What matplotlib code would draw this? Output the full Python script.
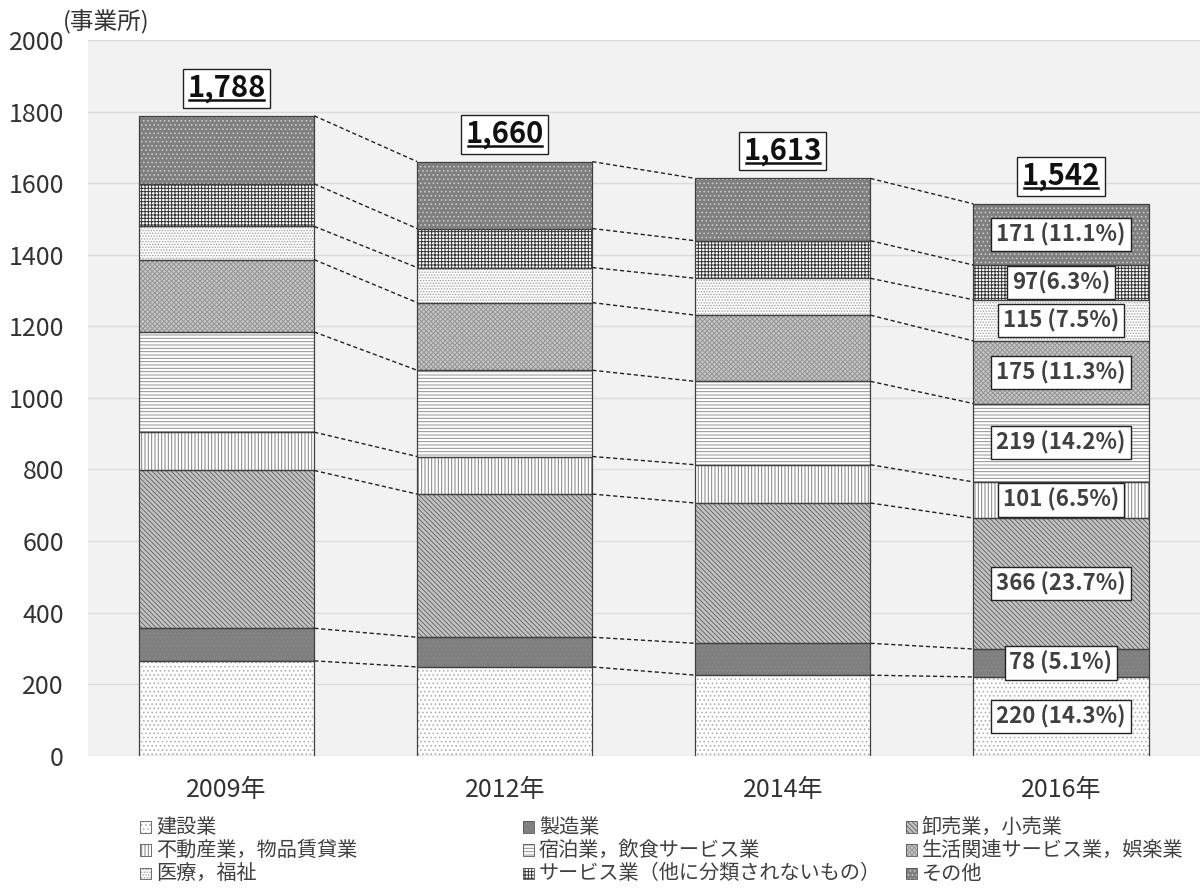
import matplotlib
matplotlib.use("Agg")
from matplotlib import pyplot as plt
from matplotlib.patches import Rectangle
from matplotlib.lines import Line2D
import numpy as np

plt.rcParams["font.family"] = ["Noto Sans CJK JP", "DejaVu Sans"]
plt.rcParams["hatch.linewidth"] = 0.7

years = ["2009年", "2012年", "2014年", "2016年"]
categories = [
    "建設業",
    "製造業",
    "卸売業，小売業",
    "不動産業，物品賃貸業",
    "宿泊業，飲食サービス業",
    "生活関連サービス業，娯楽業",
    "医療，福祉",
    "サービス業（他に分類されないもの）",
    "その他",
]
kensetsu = [265, 248, 225, 220]
seizo = [91, 83, 89, 78]
oroshi = [441, 400, 392, 366]
fudosan = [107, 105, 107, 101]
shukuhaku = [280, 241, 233, 219]
seikatsu = [202, 189, 185, 175]
iryo = [93, 98, 103, 115]
service = [119, 109, 105, 97]
sonota = [190, 187, 174, 171]
labels2016 = [
    "220 (14.3%)",
    "78 (5.1%)",
    "366 (23.7%)",
    "101 (6.5%)",
    "219 (14.2%)",
    "175 (11.3%)",
    "115 (7.5%)",
    "97(6.3%)",
    "171 (11.1%)",
]

series = [kensetsu, seizo, oroshi, fudosan, shukuhaku, seikatsu, iryo, service, sonota]

# face colour, hatch colour, hatch pattern
styles = [
    ("#ffffff", "#b0b0b0", "...."),
    ("#7f7f7f", "#8a8a8a", "...."),
    ("#c4c4c4", "#6a6a6a", "\\\\\\\\\\\\\\"),
    ("#ffffff", "#808080", "|||||"),
    ("#ffffff", "#909090", "-----"),
    ("#c8c8c8", "#959595", "xxxxxxx"),
    ("#ffffff", "#a0a0a0", "......"),
    ("#ffffff", "#333333", "+++++"),
    ("#7f7f7f", "#c8c8c8", "...."),
]

fig = plt.figure(figsize=(12, 8.88), dpi=100)
ax = fig.add_axes([0.073, 0.149, 0.927, 0.806])
ax.set_facecolor("#f2f2f2")

x = np.arange(len(years))
width = 0.63
bottom = np.zeros(len(years))
tops = []
for vals, (face, hcol, hatch) in zip(series, styles):
    vals = np.array(vals)
    ax.bar(x, vals, width, bottom=bottom, color=face, edgecolor=hcol,
           hatch=hatch, linewidth=0, zorder=2)
    ax.bar(x, vals, width, bottom=bottom, fill=False, edgecolor="#404040",
           linewidth=0.9, zorder=3)
    bottom = bottom + vals
    tops.append(bottom.copy())

# dashed connector lines
for top in tops:
    for i in range(len(years) - 1):
        ax.plot([x[i] + width / 2, x[i + 1] - width / 2], [top[i], top[i + 1]],
                ls=(0, (3, 2)), color="#222222", lw=1.0, zorder=4)

# segment labels for 2016
b = 0
for vals, lab in zip(series, labels2016):
    ax.text(x[-1], b + vals[-1] / 2, lab, ha="center", va="center",
            fontsize=16, fontweight="bold", color="#404040", zorder=6,
            bbox=dict(boxstyle="square,pad=0.22", fc="white", ec="#222222", lw=1))
    b += vals[-1]

# totals
total_texts = []
for i, t in enumerate(bottom):
    txt = ax.annotate(f"{int(t):,}", (x[i], t), xytext=(0, 9),
                      textcoords="offset points", ha="center", va="bottom",
                      fontsize=21, fontweight="bold", color="#111111", zorder=6,
                      bbox=dict(boxstyle="square,pad=0.15", fc="white", ec="#222222", lw=1))
    total_texts.append(txt)

ax.set_xlim(-0.5, 3.5)
ax.set_ylim(0, 2000)
ax.set_yticks(range(0, 2001, 200))
ax.set_xticks(x)
ax.set_xticklabels(years)
ax.tick_params(axis="both", length=0, labelsize=18, labelcolor="#333333")
ax.tick_params(axis="x", pad=15)
ax.tick_params(axis="y", pad=17)
ax.grid(axis="y", color="#dcdcdc", lw=1, zorder=0)
ax.set_axisbelow(True)
for s in ax.spines.values():
    s.set_visible(False)

fig.text(0.052, 0.975, "(事業所)", fontsize=17, color="#333333", va="center")

# legend laid out in 3 columns
col_x = [0.117, 0.436, 0.755]
row_y = [0.068, 0.042, 0.016]
for k, (name, (face, hcol, hatch)) in enumerate(zip(categories, styles)):
    r, c = divmod(k, 3)
    fig.patches.append(Rectangle((col_x[c], row_y[r] - 0.006), 0.009, 0.013,
                                 transform=fig.transFigure, fc=face, ec=hcol,
                                 hatch=hatch, lw=0))
    fig.patches.append(Rectangle((col_x[c], row_y[r] - 0.006), 0.009, 0.013,
                                 transform=fig.transFigure, fill=False,
                                 ec="#555555", lw=0.6))
    fig.text(col_x[c] + 0.013, row_y[r], name, fontsize=14.5, color="#404040",
             va="center")

# underline totals
fig.canvas.draw()
renderer = fig.canvas.get_renderer()
inv = fig.transFigure.inverted()
for txt in total_texts:
    bb = txt.get_window_extent(renderer)
    x0, y0 = inv.transform((bb.x0 + 2, bb.y0 + 3))
    x1, _ = inv.transform((bb.x1 - 2, bb.y0 + 3))
    fig.lines.append(Line2D([x0, x1], [y0, y0], transform=fig.transFigure,
                            color="#111111", lw=1.8, zorder=10))

fig.savefig("out.png", dpi=100)
